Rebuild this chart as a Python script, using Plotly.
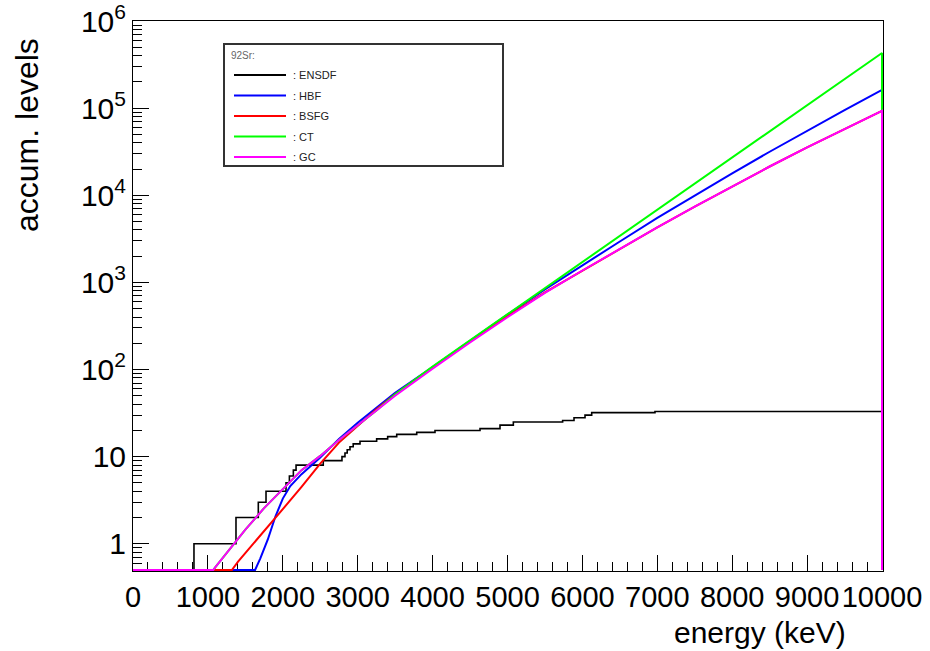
import numpy as np
import plotly.graph_objects as go

# Accumulated number of levels of 92Sr versus excitation energy (keV)

# ENSDF: discrete-level staircase (energy where the count steps, count after the step)
ensdf_e = [0, 814, 1375, 1673, 1776, 2043, 2088, 2141, 2177, 2540, 2790, 2830, 2860,
           2897, 2940, 3031, 3253, 3400, 3521, 3788, 4032, 4633, 4900, 5078, 5736,
           5888, 6035, 6124, 6969, 10000, 10000]
ensdf_n = [0, 1, 2, 3, 4, 5, 6, 7, 8, 9, 10, 11, 12,
           13, 14, 15, 16, 17, 18, 19, 20, 21, 23, 25, 26,
           28, 30, 32, 33, 33, 0]

# HBF model
hbf_e = [0, 1630, 1700, 1800, 1900, 2000, 2100, 2250, 2500, 2750, 3000, 3250, 3500,
         4000, 4500, 5000, 5500, 6000, 6500, 7000, 7500, 8000, 8500, 9000, 9500,
         10000, 10000]
hbf_n = [0, 0.5, 0.68, 1.12, 2.04, 3.3, 4.6, 6.3, 9.8, 16.0, 24.5, 36, 54,
         107, 214, 427, 832, 1580, 2950, 5500, 10000, 17800, 31600, 55000, 95000,
         162000, 0]

# BSFG model
bsfg_e = [0, 1320, 1400, 1500, 1750, 2000, 2250, 2500, 2750, 3000, 3250, 3500,
          4000, 4500, 5000, 5500, 6000, 6500, 7000, 7500, 8000, 8500, 9000, 9500,
          10000, 10000]
bsfg_n = [0, 0.5, 0.62, 0.78, 1.38, 2.5, 4.5, 8.3, 14.5, 22.4, 35, 52,
          106, 210, 410, 770, 1370, 2430, 4270, 7400, 12600, 21400, 35500, 57500,
          93000, 0]

# CT model
ct_e = [0, 1071, 1100, 1250, 1500, 1750, 2000, 2250, 2500, 2750, 3000, 3250, 3500,
        4000, 4500, 5000, 5500, 6000, 6500, 7000, 7500, 8000, 8500, 9000, 9500,
        10000, 10000]
ct_n = [0, 0.5, 0.54, 0.78, 1.45, 2.57, 4.27, 7.0, 10.2, 15.5, 22.9, 33.9, 52,
        108, 216, 430, 860, 1710, 3420, 6820, 13600, 27200, 54200, 108000, 216000,
        430000, 0]

# GC model
gc_e = [0, 1071, 1100, 1250, 1500, 1750, 2000, 2250, 2500, 2750, 3000, 3250, 3500,
        4000, 4500, 5000, 5500, 6000, 6500, 7000, 7500, 8000, 8500, 9000, 9500,
        10000, 10000]
gc_n = [0, 0.5, 0.54, 0.78, 1.45, 2.57, 4.27, 7.0, 10.2, 15.5, 22.9, 33.9, 50,
        102, 204, 398, 760, 1370, 2430, 4270, 7400, 12600, 21400, 35500, 57500,
        93000, 0]

legend_title = "92Sr:"
series = [
    (": ENSDF", "black", ensdf_e, ensdf_n),
    (": HBF", "#0000ff", hbf_e, hbf_n),
    (": BSFG", "#ff0000", bsfg_e, bsfg_n),
    (": CT", "#00ff00", ct_e, ct_n),
    (": GC", "#ff00ff", gc_e, gc_n),
]

y_floor = 0.5          # lower edge of the log axis; empty bins sit on it
y_top = 1e6
x_max = 10000
y_tick_vals = [1, 10, 100, 1e3, 1e4, 1e5, 1e6]
y_tick_text = ["1", "10", "10<sup>2</sup>", "10<sup>3</sup>", "10<sup>4</sup>",
               "10<sup>5</sup>", "10<sup>6</sup>"]
x_tick_vals = list(range(0, 10001, 1000))
x_tick_text = [str(v) for v in x_tick_vals]

# frame geometry in pixels; one spare pixel on the right and at the bottom
# so lines running along the histogram edges are not cut in half
W, H = 930, 651
L, R, T, B = 133, 47, 21, 80
PW, PH = W - L - R, H - T - B
x_hi = x_max * PW / (PW - 1)
dec_per_px = (np.log10(y_top) - np.log10(y_floor)) / (PH - 1)
y_lo = np.log10(y_floor) - dec_per_px


def px(x):
    return (x - L) / PW


def py(y):
    return 1 - (y - T) / PH


def on_axis(vals):
    return np.clip(np.asarray(vals, dtype=float), y_floor, None)


fig = go.Figure()
for name, color, e, n in series:
    fig.add_trace(go.Scatter(
        x=e, y=on_axis(n), mode="lines", name=name, showlegend=False,
        line=dict(color=color, width=1.6 if color == "black" else 2,
                  shape="hv" if color == "black" else "linear")))

font = "Liberation Sans, Arial, sans-serif"

fig.update_xaxes(range=[0, x_hi], tickvals=x_tick_vals, ticktext=x_tick_text,
                 tickfont=dict(family=font, size=29, color="black"),
                 tickangle=0, automargin=False, ticklabeloverflow="allow",
                 showline=True, linecolor="black", linewidth=1, mirror=True,
                 ticks="inside", ticklen=16, tickcolor="black", tickwidth=1,
                 minor=dict(ticks="inside", ticklen=9, dtick=200, tickcolor="black",
                            tickwidth=1),
                 showgrid=False, zeroline=False, layer="below traces")
fig.update_yaxes(type="log", range=[y_lo, np.log10(y_top) + 0.0005],
                 tickvals=y_tick_vals, ticktext=y_tick_text,
                 tickfont=dict(family=font, size=30, color="black"),
                 automargin=False, ticklabeloverflow="allow",
                 showline=True, linecolor="black", linewidth=1, mirror=True,
                 ticks="inside", ticklen=16, tickcolor="black", tickwidth=1,
                 minor=dict(ticks="inside", ticklen=9, dtick="D1", tickcolor="black",
                            tickwidth=1),
                 showgrid=False, zeroline=False, layer="below traces")

fig.add_annotation(text="energy (keV)", xref="paper", yref="paper",
                   x=px(848), y=py(632), xanchor="right", yanchor="middle",
                   showarrow=False, font=dict(family=font, size=30, color="black"))
fig.add_annotation(text="accum. levels", xref="paper", yref="paper",
                   x=px(27), y=py(36), xanchor="center", yanchor="top", textangle=-90,
                   showarrow=False, font=dict(family=font, size=32, color="black"))

# legend box
box_x0, box_x1, box_y0, box_y1 = 224, 503, 44, 166
fig.add_shape(type="rect", xref="paper", yref="paper",
              x0=px(box_x0), x1=px(box_x1), y0=py(box_y1), y1=py(box_y0),
              line=dict(color="#333333", width=2), fillcolor="white", layer="above")
fig.add_annotation(text=legend_title, xref="paper", yref="paper",
                   x=px(229), y=py(56), xanchor="left", yanchor="middle",
                   showarrow=False, font=dict(family=font, size=10, color="#666666"))
row_y = [75, 95.5, 116, 136.5, 157]
for (name, color, _, _), ry in zip(series, row_y):
    fig.add_shape(type="line", xref="paper", yref="paper",
                  x0=px(234), x1=px(286), y0=py(ry), y1=py(ry),
                  line=dict(color=color, width=2), layer="above")
    fig.add_annotation(text=name, xref="paper", yref="paper",
                       x=px(291), y=py(ry), xanchor="left", yanchor="middle",
                       showarrow=False,
                       font=dict(family=font, size=11, color="#222222"))

fig.update_layout(
    width=W, height=H,
    margin=dict(l=L, r=R, t=T, b=B, autoexpand=False),
    paper_bgcolor="white", plot_bgcolor="white",
    showlegend=False,
)

fig.write_html("out.html")
